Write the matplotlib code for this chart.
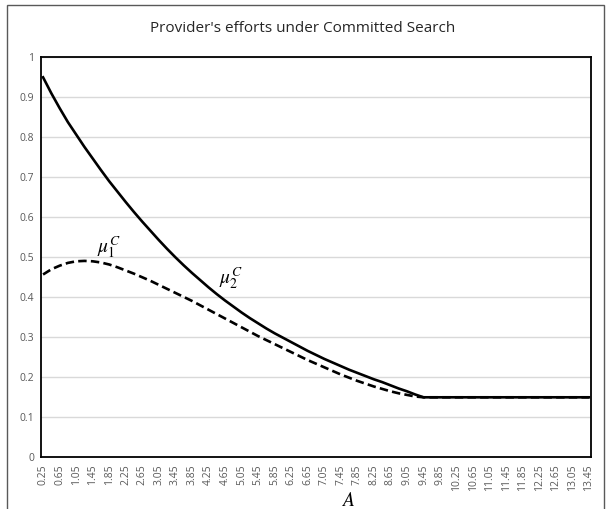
import numpy as np
import matplotlib
matplotlib.use("Agg")
import matplotlib.pyplot as plt
from matplotlib.patches import Rectangle

# Provider efforts vs. A (committed search regime)
a_values = [0.25, 0.45, 0.65, 0.85, 1.05, 1.25, 1.45, 1.65, 1.85, 2.05,
            2.25, 2.45, 2.65, 2.85, 3.05, 3.25, 3.45, 3.65, 3.85, 4.05,
            4.25, 4.45, 4.65, 4.85, 5.05, 5.25, 5.45, 5.65, 5.85, 6.05,
            6.25, 6.45, 6.65, 6.85, 7.05, 7.25, 7.45, 7.65, 7.85, 8.05,
            8.25, 8.45, 8.65, 8.85, 9.05, 9.25, 9.45, 9.65, 9.85, 10.05,
            10.25, 10.45, 10.65, 10.85, 11.05, 11.25, 11.45, 11.65, 11.85,
            12.05, 12.25, 12.45, 12.65, 12.85, 13.05, 13.25, 13.45]

mu2 = [0.950, 0.910, 0.873, 0.838, 0.807, 0.776, 0.747, 0.718, 0.690, 0.664,
       0.638, 0.613, 0.589, 0.566, 0.543, 0.521, 0.500, 0.480, 0.461, 0.443,
       0.425, 0.408, 0.392, 0.377, 0.362, 0.348, 0.335, 0.322, 0.310, 0.299,
       0.288, 0.277, 0.266, 0.256, 0.246, 0.237, 0.228, 0.219, 0.211, 0.203,
       0.195, 0.188, 0.180, 0.172, 0.165, 0.157, 0.150, 0.150, 0.150, 0.150,
       0.150, 0.150, 0.150, 0.150, 0.150, 0.150, 0.150, 0.150, 0.150,
       0.150, 0.150, 0.150, 0.150, 0.150, 0.150, 0.150, 0.150]

mu1 = [0.457, 0.470, 0.479, 0.486, 0.490, 0.491, 0.490, 0.487, 0.482, 0.475,
       0.467, 0.459, 0.450, 0.441, 0.431, 0.421, 0.411, 0.401, 0.391, 0.380,
       0.369, 0.358, 0.347, 0.336, 0.325, 0.314, 0.303, 0.293, 0.283, 0.273,
       0.263, 0.253, 0.243, 0.234, 0.225, 0.216, 0.207, 0.199, 0.191, 0.184,
       0.177, 0.171, 0.165, 0.160, 0.156, 0.152, 0.150, 0.150, 0.150, 0.150,
       0.150, 0.150, 0.150, 0.150, 0.150, 0.150, 0.150, 0.150, 0.150,
       0.150, 0.150, 0.150, 0.150, 0.150, 0.150, 0.150, 0.150]

x_tick_labels = ["0.25", "0.65", "1.05", "1.45", "1.85", "2.25", "2.65", "3.05",
                 "3.45", "3.85", "4.25", "4.65", "5.05", "5.45", "5.85", "6.25",
                 "6.65", "7.05", "7.45", "7.85", "8.25", "8.65", "9.05", "9.45",
                 "9.85", "10.25", "10.65", "11.05", "11.45", "11.85", "12.25",
                 "12.65", "13.05", "13.45"]
y_ticks = [0, 0.1, 0.2, 0.3, 0.4, 0.5, 0.6, 0.7, 0.8, 0.9, 1.0]
y_tick_labels = ["0", "0.1", "0.2", "0.3", "0.4", "0.5", "0.6", "0.7", "0.8", "0.9", "1"]

W, H = 606, 509
fig = plt.figure(figsize=(W / 100, H / 100), dpi=100)
fig.patch.set_facecolor("white")

# chart-area frame
fig.patches.append(Rectangle((7 / W, -0.02), 597 / W, 1 - 5 / H + 0.02,
                             transform=fig.transFigure, fill=False,
                             edgecolor="#595959", linewidth=1.0))

left, right = 41 / W, 591 / W
bottom, top = (H - 457.3) / H, (H - 57.3) / H
ax = fig.add_axes([left, bottom, right - left, top - bottom])

ax.plot(a_values, mu2, color="black", linewidth=1.9, solid_joinstyle="round")
ax.plot(a_values, mu1, color="black", linewidth=1.9, linestyle=(0, (3.2, 1.6)))

ax.set_xlim(0.2, 13.5)
ax.set_ylim(0, 1)
ax.set_yticks(y_ticks)
ax.set_yticklabels(y_tick_labels)
ax.set_xticks([float(s) for s in x_tick_labels])
ax.set_xticklabels(x_tick_labels, rotation=90)

ax.grid(axis="y", color="#d9d9d9", linewidth=1.0)
ax.set_axisbelow(True)
for s in ax.spines.values():
    s.set_color("black")
    s.set_linewidth(1.3)

ax.tick_params(axis="both", length=0, labelsize=7.5, labelcolor="#595959", pad=5)
for lbl in ax.get_xticklabels() + ax.get_yticklabels():
    lbl.set_family("Open Sans")

fig.text(0.5, (H - 28) / H, "Provider's efforts under Committed Search",
         ha="center", va="center", fontsize=11, family="Open Sans", color="#262626")

ax.text(1.85, 0.493, r"$\mu_1^C$", fontsize=14, ha="center", va="bottom",
        math_fontfamily="stix")
ax.text(4.8, 0.415, r"$\mu_2^C$", fontsize=14, ha="center", va="bottom",
        math_fontfamily="stix")

fig.text(348 / W, (H - 500) / H, r"$A$", fontsize=14, ha="center", va="center",
         math_fontfamily="stix")

fig.savefig("out.png", dpi=100, facecolor="white")
